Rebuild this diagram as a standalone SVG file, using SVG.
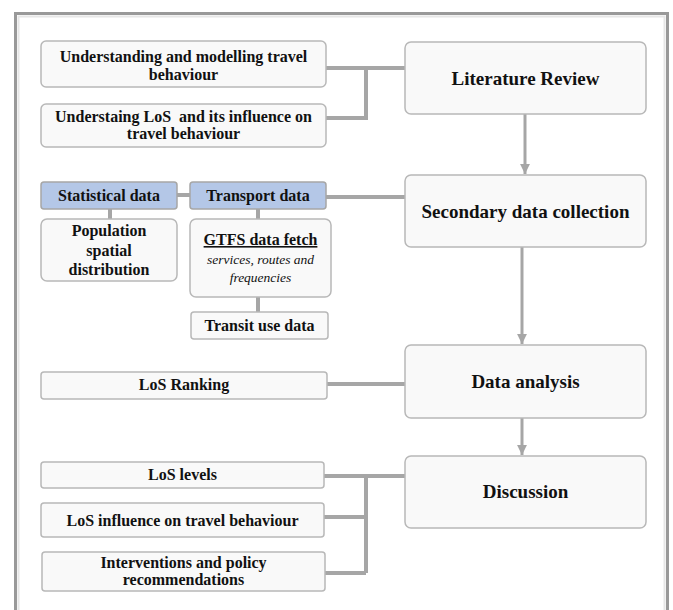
<svg xmlns="http://www.w3.org/2000/svg" width="673" height="610" viewBox="0 0 673 610">
<defs>
<style>
.box{fill:#f9f9f9;stroke:#b8b8b8;stroke-width:1.5}
.blue{fill:#b4c7e7;stroke:#a6a6a6;stroke-width:1.5}
.conn{fill:none;stroke:#a6a6a6;stroke-width:4}
.arr{fill:none;stroke:#a6a6a6;stroke-width:3}
.t{font-family:'Liberation Serif','DejaVu Serif',serif;font-weight:bold;fill:#111;text-anchor:middle}
.s{font-size:16px}
.b{font-size:19px}
.it{font-style:italic;font-weight:normal;font-size:13.5px}
</style>
<marker id="ah" viewBox="0 0 10 10" refX="10" refY="5" markerWidth="3.3" markerHeight="3.3" orient="auto" markerUnits="strokeWidth">
<path d="M0,0 L10,5 L0,10 z" fill="#a6a6a6"/>
</marker>
</defs>
<rect x="0" y="0" width="673" height="610" fill="#fff"/>
<rect x="15.5" y="13.5" width="652" height="650" fill="none" stroke="#999" stroke-width="3"/>
<rect x="18.5" y="16.5" width="646" height="650" fill="none" stroke="#e6e6e6" stroke-width="2"/>

<g id="connectors">
<path class="conn" d="M326,68 H405 M326,118 H366 V68"/>
<path class="conn" d="M177,195 H190"/>
<path class="conn" d="M326,197 H405"/>
<path class="conn" d="M110,209 V219"/>
<path class="conn" d="M258,209 V219"/>
<path class="conn" d="M258,297 V312"/>
<path class="conn" d="M327,384 H405"/>
<path class="conn" d="M324,476 H405 M324,517 H366 M325,573 H366 M366,476 V573"/>
<path class="arr" d="M525,114 V174" marker-end="url(#ah)"/>
<path class="arr" d="M522,247 V344" marker-end="url(#ah)"/>
<path class="arr" d="M522,418 V455" marker-end="url(#ah)"/>
</g>

<g class="t" font-family="Liberation Serif, DejaVu Serif, serif">
<g id="n-understanding">
<rect class="box" x="41" y="41" width="285" height="46" rx="5"/>
<text class="s" x="183.5" y="62">Understanding and modelling travel</text>
<text class="s" x="183.5" y="80">behaviour</text>
</g>
<g id="n-los-influence-lit">
<rect class="box" x="41" y="104" width="285" height="43" rx="5"/>
<text class="s" x="183.5" y="122">Understaing LoS&#160; and its influence on</text>
<text class="s" x="183.5" y="139">travel behaviour</text>
</g>
<g id="n-literature">
<rect class="box" x="405" y="42" width="241" height="72" rx="6"/>
<text class="b" x="525.5" y="85">Literature Review</text>
</g>
<g id="n-secondary">
<rect class="box" x="405" y="175" width="241" height="72" rx="6"/>
<text class="b" x="525.5" y="218">Secondary data collection</text>
</g>
<g id="n-statistical">
<rect class="blue" x="41" y="182" width="136" height="27" rx="3"/>
<text class="s" x="109" y="201">Statistical data</text>
</g>
<g id="n-transport">
<rect class="blue" x="190" y="182" width="136" height="27" rx="3"/>
<text class="s" x="258" y="201">Transport data</text>
</g>
<g id="n-population">
<rect class="box" x="41" y="219" width="136" height="62" rx="6"/>
<text class="s" x="109" y="236">Population</text>
<text class="s" x="109" y="256">spatial</text>
<text class="s" x="109" y="275">distribution</text>
</g>
<g id="n-gtfs">
<rect class="box" x="190" y="219" width="141" height="78" rx="6"/>
<text class="s" x="260.5" y="245" text-decoration="underline">GTFS data fetch</text>
<text class="it" x="260.5" y="264">services, routes and</text>
<text class="it" x="260.5" y="282">frequencies</text>
</g>
<g id="n-transit">
<rect class="box" x="191" y="312" width="137" height="27" rx="3"/>
<text class="s" x="259.5" y="331">Transit use data</text>
</g>
<g id="n-data-analysis">
<rect class="box" x="405" y="345" width="241" height="73" rx="6"/>
<text class="b" x="525.5" y="388">Data analysis</text>
</g>
<g id="n-los-ranking">
<rect class="box" x="41" y="372" width="286" height="27" rx="3"/>
<text class="s" x="184" y="390">LoS Ranking</text>
</g>
<g id="n-discussion">
<rect class="box" x="405" y="456" width="241" height="72" rx="6"/>
<text class="b" x="525.5" y="498">Discussion</text>
</g>
<g id="n-los-levels">
<rect class="box" x="41" y="462" width="283" height="26" rx="3"/>
<text class="s" x="182.5" y="480">LoS levels</text>
</g>
<g id="n-los-influence">
<rect class="box" x="41" y="503" width="283" height="34" rx="3"/>
<text class="s" x="182.5" y="526">LoS influence on travel behaviour</text>
</g>
<g id="n-interventions">
<rect class="box" x="42" y="552" width="283" height="39" rx="3"/>
<text class="s" x="183.5" y="568">Interventions and policy</text>
<text class="s" x="183.5" y="585">recommendations</text>
</g>
</g>
</svg>
